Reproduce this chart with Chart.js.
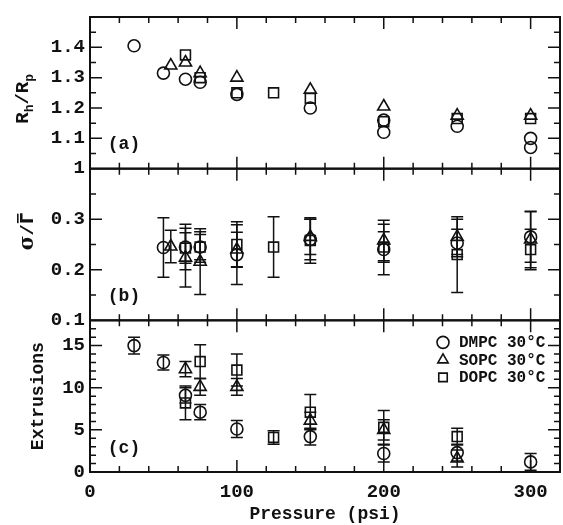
<!DOCTYPE html>
<html>
<head>
<meta charset="utf-8">
<script src="https://cdn.jsdelivr.net/npm/chart.js@4.4.0/dist/chart.umd.min.js"></script>
<style>
html, body { margin: 0; padding: 0; background: #fff; }
canvas { display: block; }
</style>
</head>
<body>
<canvas id="extrusionChart" width="563" height="525"></canvas>
<script>
// (a) hydrodynamic radius ratio R_h/R_p
const rhPressDMPC = [30, 50, 65, 75, 100, 150, 200, 200, 250, 300, 300];
const rhDMPC = [1.405, 1.315, 1.295, 1.285, 1.245, 1.2, 1.16, 1.12, 1.14, 1.1, 1.07];
const rhPressSOPC = [55, 65, 75, 100, 150, 200, 250, 300];
const rhSOPC = [1.34, 1.35, 1.315, 1.3, 1.26, 1.205, 1.175, 1.175];
const rhPressDOPC = [65, 75, 100, 125, 150, 200, 250, 300];
const rhDOPC = [1.375, 1.3, 1.25, 1.25, 1.232, 1.155, 1.165, 1.165];

// (b) relative width sigma/Gamma with error bars
const sigPressDMPC = [50, 65, 75, 100, 150, 200, 250, 300];
const sigDMPC = [0.244, 0.245, 0.245, 0.23, 0.26, 0.24, 0.253, 0.265];
const sigErrDMPC = [0.059, 0.045, 0.03, 0.059, 0.04, 0.05, 0.027, 0.05];
const sigPressSOPC = [55, 65, 75, 100, 150, 200, 250, 300];
const sigSOPC = [0.246, 0.224, 0.216, 0.24, 0.265, 0.258, 0.265, 0.26];
const sigErrSOPC = [0.032, 0.058, 0.065, 0.034, 0.035, 0.04, 0.035, 0.056];
const sigPressDOPC = [65, 75, 100, 125, 150, 200, 250, 300];
const sigDOPC = [0.243, 0.245, 0.25, 0.245, 0.258, 0.245, 0.23, 0.24];
const sigErrDOPC = [0.03, 0.025, 0.045, 0.06, 0.045, 0.03, 0.075, 0.04];

// (c) number of extrusions with error bars
const extPressDMPC = [30, 50, 65, 75, 100, 150, 200, 250, 300];
const extDMPC = [15, 13, 9.1, 7.1, 5.1, 4.2, 2.2, 2.3, 1.2];
const extErrDMPC = [1, 0.9, 0.9, 0.9, 1, 1, 1, 1, 1];
const extPressSOPC = [65, 75, 100, 150, 200, 250];
const extSOPC = [12.2, 10.1, 10.1, 6.1, 5, 1.6];
const extErrSOPC = [0.9, 1, 1, 1, 1.2, 1];
const extPressDOPC = [65, 75, 100, 125, 150, 200, 250];
const extDOPC = [8.2, 13.1, 12.1, 4.1, 7.1, 5.3, 4.2];
const extErrDOPC = [2, 2, 1.9, 0.8, 2.1, 2, 1];

const lipids = ['DMPC 30°C', 'SOPC 30°C', 'DOPC 30°C'];
const shapes = ['circle', 'triangle', 'rect'];
const INK = '#111';
const FONT = "'Liberation Mono', 'DejaVu Sans Mono', monospace";

function pts(xs, ys) {
    return xs.map((x, i) => ({ x: x, y: ys[i] }));
}

function series(axis, shape, xs, ys, errs) {
    return {
        label: axis + shape,
        yAxisID: axis,
        data: pts(xs, ys),
        errors: errs,
        pointStyle: shape,
        pointRadius: shape === 'circle' ? 6 : 7,
        pointBorderWidth: 1.6,
        pointBorderColor: INK,
        pointBackgroundColor: 'rgba(0,0,0,0)',
        showLine: false
    };
}

const datasets = [
    series('ya', 'circle', rhPressDMPC, rhDMPC),
    series('ya', 'triangle', rhPressSOPC, rhSOPC),
    series('ya', 'rect', rhPressDOPC, rhDOPC),
    series('yb', 'circle', sigPressDMPC, sigDMPC, sigErrDMPC),
    series('yb', 'triangle', sigPressSOPC, sigSOPC, sigErrSOPC),
    series('yb', 'rect', sigPressDOPC, sigDOPC, sigErrDOPC),
    series('yc', 'circle', extPressDMPC, extDMPC, extErrDMPC),
    series('yc', 'triangle', extPressSOPC, extSOPC, extErrSOPC),
    series('yc', 'rect', extPressDOPC, extDOPC, extErrDOPC)
];

const panels = [
    { id: 'ya', minor: 0.05, major: 0.1, tag: '(a)' },
    { id: 'yb', minor: 0.05, major: 0.1, tag: '(b)' },
    { id: 'yc', minor: 1, major: 5, tag: '(c)' }
];

function yScale(min, max, step, fmt) {
    return {
        type: 'linear',
        position: 'left',
        stack: 'panels',
        stackWeight: 1,
        min: min,
        max: max,
        grid: { display: false, drawTicks: false },
        border: { display: false },
        ticks: { stepSize: step, autoSkip: false, includeBounds: false, padding: 5, color: INK, font: { size: 19, weight: 'bold' }, callback: fmt },
        afterFit: function (s) { s.width = 90; s.paddingTop = 0; s.paddingBottom = 0; }
    };
}

// text with subscripts, drawn rotated
function drawPieces(ctx, pieces, cx, baseX) {
    let total = 0;
    pieces.forEach(p => { ctx.font = p.font; total += ctx.measureText(p.t).width; });
    ctx.save();
    ctx.translate(baseX, cx);
    ctx.rotate(-Math.PI / 2);
    let pos = -total / 2;
    pieces.forEach(p => {
        ctx.font = p.font;
        ctx.fillText(p.t, pos, p.dy || 0);
        const w = ctx.measureText(p.t).width;
        if (p.bar) {
            ctx.fillRect(pos + 1, -p.bar, w - 2, 1.6);
        }
        pos += w;
    });
    ctx.restore();
}

const framePlugin = {
    id: 'framePlugin',
    beforeDatasetsDraw(chart) {
        const { ctx, scales } = chart;
        const x = scales.x;
        ctx.save();
        ctx.strokeStyle = INK;
        ctx.lineWidth = 1.5;
        chart.data.datasets.forEach(ds => {
            if (!ds.errors) return;
            const ys = scales[ds.yAxisID];
            ds.data.forEach((p, i) => {
                const px = x.getPixelForValue(p.x);
                const top = ys.getPixelForValue(p.y + ds.errors[i]);
                const bot = ys.getPixelForValue(p.y - ds.errors[i]);
                ctx.beginPath();
                ctx.moveTo(px, top); ctx.lineTo(px, bot);
                ctx.moveTo(px - 6, top); ctx.lineTo(px + 6, top);
                ctx.moveTo(px - 6, bot); ctx.lineTo(px + 6, bot);
                ctx.stroke();
            });
        });
        ctx.restore();
    },
    afterDraw(chart) {
        const { ctx, chartArea: area, scales } = chart;
        const x = scales.x;
        ctx.save();
        ctx.strokeStyle = INK;
        ctx.fillStyle = INK;

        panels.forEach(pn => {
            const s = scales[pn.id];
            // box
            ctx.lineWidth = 2;
            ctx.strokeRect(area.left, s.top, area.right - area.left, s.bottom - s.top);
            ctx.lineWidth = 1.5;
            ctx.beginPath();
            // x ticks on top and bottom edges
            for (let v = 0; v <= x.max; v += 20) {
                const px = x.getPixelForValue(v);
                const len = v % 100 === 0 ? 12 : 6;
                ctx.moveTo(px, s.bottom); ctx.lineTo(px, s.bottom - len);
                ctx.moveTo(px, s.top); ctx.lineTo(px, s.top + len);
            }
            // y ticks on left and right edges
            const n = Math.round((s.max - s.min) / pn.minor);
            for (let k = 1; k < n; k++) {
                const v = s.min + k * pn.minor;
                const r = v / pn.major;
                const len = Math.abs(r - Math.round(r)) < 1e-6 ? 12 : 6;
                const py = s.getPixelForValue(v);
                ctx.moveTo(area.left, py); ctx.lineTo(area.left + len, py);
                ctx.moveTo(area.right, py); ctx.lineTo(area.right - len, py);
            }
            ctx.stroke();

            // panel tag
            ctx.font = 'bold 18px ' + FONT;
            ctx.textAlign = 'center';
            ctx.textBaseline = 'middle';
            ctx.fillText(pn.tag, area.left + 34, s.bottom - 24);
        });

        // y axis titles
        ctx.textAlign = 'left';
        ctx.textBaseline = 'alphabetic';
        const big = 'bold 19px ' + FONT;
        const small = 'bold 13px ' + FONT;
        const a = scales.ya, b = scales.yb, c = scales.yc;
        drawPieces(ctx, [
            { t: 'R', font: big }, { t: 'h', font: small, dy: 5 },
            { t: '/', font: big },
            { t: 'R', font: big }, { t: 'p', font: small, dy: 5 }
        ], (a.top + a.bottom) / 2 + 6, 28);
        drawPieces(ctx, [
            { t: 'σ', font: 'bold 20px DejaVu Serif' },
            { t: '/', font: big },
            { t: 'Γ', font: 'bold 18px DejaVu Sans', bar: 16 }
        ], (b.top + b.bottom) / 2 - 13, 33);
        drawPieces(ctx, [{ t: 'Extrusions', font: 'bold 18px ' + FONT }], (c.top + c.bottom) / 2, 43);

        // legend inside panel (c)
        ctx.font = 'bold 16px ' + FONT;
        ctx.textBaseline = 'middle';
        lipids.forEach((name, i) => {
            const ly = c.top + 22 + i * 17.5;
            ctx.fillStyle = 'rgba(0,0,0,0)';
            ctx.lineWidth = 1.6;
            Chart.helpers.drawPoint(ctx, { pointStyle: shapes[i], radius: 6, borderWidth: 1.6, rotation: 0 }, area.right - 117, ly);
            ctx.fillStyle = INK;
            ctx.fillText(name, area.right - 101, ly + 1);
        });
        ctx.restore();
    }
};

new Chart(document.getElementById('extrusionChart').getContext('2d'), {
    type: 'scatter',
    data: { datasets: datasets },
    options: {
        responsive: false,
        animation: false,
        events: [],
        font: { family: FONT },
        layout: { autoPadding: false, padding: { left: 0, right: 3, top: 17, bottom: 0 } },
        plugins: { legend: { display: false }, tooltip: { enabled: false } },
        scales: {
            x: {
                type: 'linear',
                position: 'bottom',
                min: 0,
                max: 320,
                grid: { display: false, drawTicks: false },
                border: { display: false },
                ticks: {
                    stepSize: 100, autoSkip: false, includeBounds: false, padding: 9, color: INK,
                    font: { size: 19, weight: 'bold' },
                    callback: v => (v % 100 === 0 ? v : null)
                },
                title: { display: true, text: 'Pressure (psi)', color: INK, font: { size: 18, weight: 'bold' }, padding: 0 },
                afterFit: function (s) { s.height = 53; s.paddingLeft = 0; s.paddingRight = 0; }
            },
            // stacked scales are laid out bottom-up, so (c) comes first
            yc: yScale(0, 18, 5, v => (v % 5 === 0 ? v : null)),
            yb: yScale(0.1, 0.4, 0.1, v => (v > 0.35 ? null : v.toFixed(1))),
            ya: yScale(1, 1.5, 0.1, v => (v > 1.45 ? null : (v === 1 ? '1' : v.toFixed(1))))
        }
    },
    plugins: [framePlugin]
});
</script>
</body>
</html>
